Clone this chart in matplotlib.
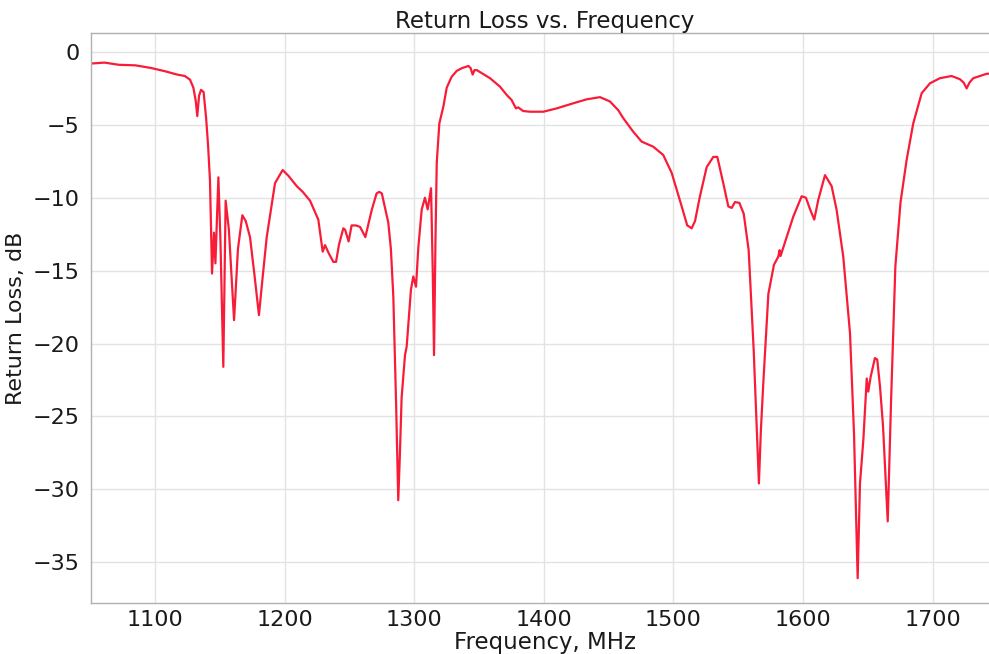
import matplotlib
matplotlib.use("Agg")
import matplotlib.pyplot as plt

freq_mhz = [1050, 1061, 1072, 1085, 1097, 1108, 1117, 1123, 1127, 1129.6, 1131.5, 1132.6, 1134, 1135.5,
            1137.5, 1139.5, 1141, 1142.4, 1144, 1145.5, 1146.6, 1148.9, 1150.5, 1152.7, 1154.5, 1157, 1161,
            1164, 1167.4, 1170, 1173.3, 1177, 1180.2, 1183, 1186.2, 1192.6, 1198.5, 1203, 1209.3, 1214,
            1219.6, 1226, 1229.4, 1231.2, 1234, 1237.6, 1239.7, 1242, 1245.3, 1246.7, 1249.4, 1251.7, 1255,
            1258.2, 1260, 1262.3, 1267.2, 1271, 1273, 1275, 1277, 1280, 1282, 1283.9, 1286, 1287.7, 1289,
            1290.3, 1292.9, 1294.2, 1297.5, 1299.3, 1301.4, 1303.2, 1305.8, 1308.3, 1310.4, 1313, 1314.3,
            1315.3, 1316.4, 1317.4, 1319.4, 1322.5, 1325.1, 1328.9, 1332.8, 1336.6, 1341.8, 1343.5, 1345.1,
            1346.5, 1348.2, 1353, 1358.5, 1366.2, 1371.4, 1375.2, 1378.5, 1380.3, 1384, 1389.4, 1399.6,
            1410, 1422.8, 1433.1, 1443.4, 1451.1, 1457.5, 1461.4, 1469, 1475.5, 1484.5, 1492.2, 1498.7,
            1505.1, 1510.7, 1512.5, 1514.1, 1516.7, 1520.5, 1525.7, 1530.8, 1533.9, 1538.5, 1542.4, 1545,
            1547.5, 1550.9, 1554.3, 1558.1, 1562, 1564, 1566, 1567.5, 1569.4, 1573.3, 1577.6, 1580.9, 1582,
            1582.7, 1587.4, 1592.5, 1599, 1602.3, 1605.5, 1608.7, 1611.8, 1617, 1622.1, 1626, 1631.1,
            1636.3, 1639.4, 1642.2, 1644, 1646.6, 1649.2, 1650.4, 1652.2, 1655.5, 1657.3, 1659.5, 1661.8,
            1665.4, 1668, 1671.3, 1675.3, 1680, 1685.1, 1691.6, 1698, 1705.7, 1714.7, 1721.1, 1724, 1726.3,
            1728.5, 1731.4, 1741.7, 1750]

return_loss_db = [-0.80, -0.73, -0.88, -0.92, -1.10, -1.33, -1.55, -1.65, -1.90, -2.45, -3.4, -4.4, -3.0, -2.6,
                  -2.75, -4.6, -6.5, -8.8, -15.2, -12.4, -14.5, -8.6, -13.0, -21.6, -10.2, -12.2, -18.4,
                  -13.5, -11.2, -11.6, -12.7, -15.5, -18.05, -15.5, -12.7, -9.0, -8.1, -8.5, -9.2, -9.6,
                  -10.2, -11.5, -13.7, -13.25, -13.8, -14.4, -14.4, -13.2, -12.1, -12.2, -13.0, -11.9, -11.9,
                  -12.0, -12.3, -12.7, -10.85, -9.7, -9.6, -9.7, -10.5, -11.7, -13.5, -16.8, -24.0, -30.75, -27.5,
                  -23.7, -20.8, -20.2, -16.3, -15.4, -16.1, -13.4, -10.8, -10.0, -10.8, -9.35, -15.0,
                  -20.8, -13.0, -7.6, -4.9, -3.75, -2.45, -1.7, -1.3, -1.12, -0.96, -1.1, -1.55,
                  -1.25, -1.24, -1.5, -1.8, -2.38, -2.95, -3.3, -3.87, -3.8, -4.05, -4.1, -4.1,
                  -3.87, -3.52, -3.25, -3.1, -3.4, -4.0, -4.55, -5.47, -6.15, -6.5, -7.07, -8.3,
                  -10.2, -11.9, -12.0, -12.1, -11.6, -9.9, -7.9, -7.2, -7.2, -9.0, -10.6, -10.7,
                  -10.3, -10.35, -11.1, -13.6, -20.5, -25.0, -29.6, -26.0, -22.7, -16.6, -14.6, -14.05, -13.6,
                  -14.0, -12.7, -11.3, -9.9, -10.0, -10.8, -11.5, -10.15, -8.45, -9.2, -10.85, -14.05,
                  -19.3, -26.2, -36.1, -29.6, -26.6, -22.4, -23.3, -22.3, -21.0, -21.1, -23.0, -25.7,
                  -32.2, -23.9, -14.7, -10.3, -7.4, -4.9, -2.83, -2.15, -1.8, -1.65, -1.87, -2.1, -2.5,
                  -2.1, -1.8, -1.5, -1.45]

x_ticks = [1100, 1200, 1300, 1400, 1500, 1600, 1700]
y_ticks = [0, -5, -10, -15, -20, -25, -30, -35]

plt.rcParams['font.family'] = ['DejaVu Sans']

fig = plt.figure(figsize=(9.89, 6.54), dpi=100)
ax = fig.add_axes([91 / 989, 51 / 654, 907 / 989, 570 / 654])

ax.plot(freq_mhz, return_loss_db, color='#f81c38', linewidth=1.6)

ax.set_xlim(1050.6, 1750.5)
ax.set_ylim(-37.8, 1.3)
ax.set_xticks(x_ticks)
ax.set_yticks(y_ticks)
ax.set_yticklabels([f"\u2212{abs(v)}" if v < 0 else str(v) for v in y_ticks])

ax.grid(True, color='#e3e3e3', linewidth=1.0)
ax.set_axisbelow(True)
for side in ['left', 'bottom', 'top', 'right']:
    ax.spines[side].set_color('#b0b0b0')
    ax.spines[side].set_linewidth(1.0)

ax.tick_params(axis='both', length=0, labelsize=16, colors='#1a1a1a')
ax.tick_params(axis='x', pad=5)
ax.tick_params(axis='y', pad=8)

ax.set_title("Return Loss vs. Frequency", fontsize=16.5, pad=2, color='#1a1a1a')
ax.set_xlabel("Frequency, MHz", fontsize=16.5, labelpad=1, color='#1a1a1a')
ax.set_ylabel("Return Loss, dB", fontsize=16, labelpad=5, color='#1a1a1a')

fig.savefig("out.png", dpi=100)
